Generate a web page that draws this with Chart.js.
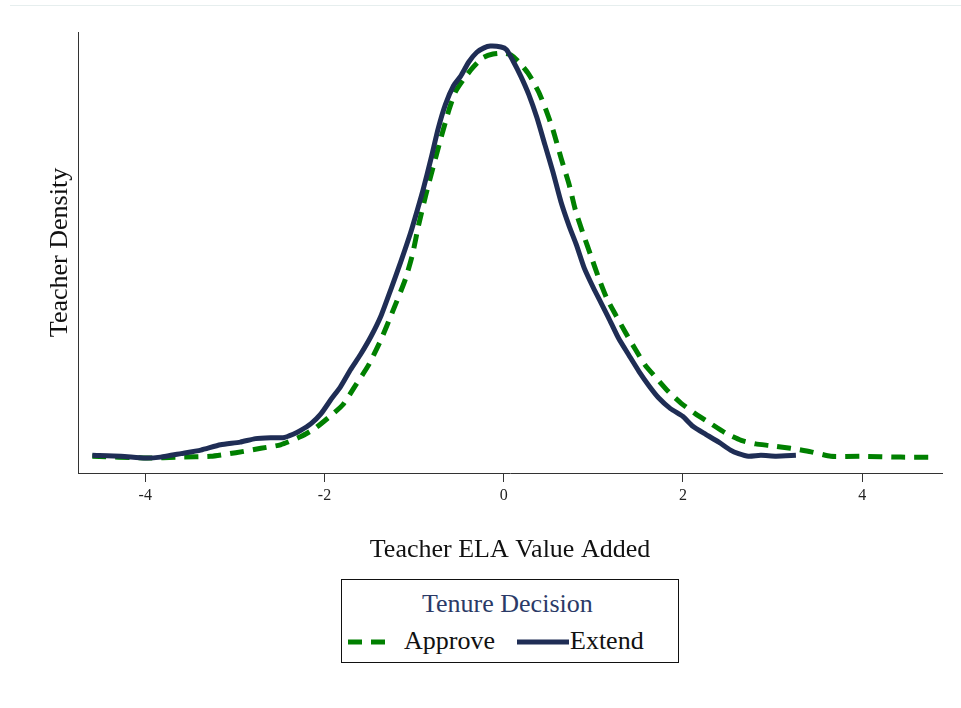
<!DOCTYPE html>
<html>
<head>
<meta charset="utf-8">
<script src="https://cdn.jsdelivr.net/npm/chart.js@4"></script>
<style>
  body { margin: 0; background: #fff; font-family: "Liberation Serif", serif; }
  .page { position: relative; width: 961px; height: 708px; }
  .topline { position: absolute; left: 10px; right: 0; top: 5px; border-top: 1px solid #e6eeee; }
  .wrap { position: absolute; left: 0; top: 0; width: 961px; height: 575px; }
  .legend { position: absolute; left: 341px; top: 579px; width: 336px; height: 82px; border: 1px solid #111; }
  .legend span { position: absolute; white-space: nowrap; line-height: 1; }
  .legend svg { position: absolute; }
</style>
</head>
<body>
<div class="page">
  <div class="topline"></div>
  <div class="wrap"><canvas id="chart"></canvas></div>
  <div class="legend">
    <span style="left:80px; top:11px; font-size:26px; color:#2b3a67;">Tenure Decision</span>
    <svg style="left:6px; top:57px;" width="44" height="10"><line x1="0" y1="5" x2="44" y2="5" stroke="#008000" stroke-width="5" stroke-dasharray="14,9"/></svg>
    <span style="left:62px; top:48px; font-size:26px; color:#111;">Approve</span>
    <svg style="left:175px; top:57px;" width="52" height="10"><line x1="0" y1="5" x2="52" y2="5" stroke="#1f2d55" stroke-width="5"/></svg>
    <span style="left:228px; top:48px; font-size:26px; color:#111;">Extend</span>
  </div>
</div>
<script>
// x positions and densities
const approveX = [-4.59, -4.0, -3.6, -3.27, -2.99, -2.71, -2.49, -2.27, -2.10, -1.93, -1.79, -1.65, -1.51, -1.37, -1.24, -1.10, -1.02, -0.95, -0.87, -0.79, -0.70, -0.61, -0.54, -0.45, -0.35, -0.23, -0.12, -0.01, 0.08, 0.17, 0.28, 0.39, 0.47, 0.55, 0.64, 0.73, 0.80, 0.88, 0.97, 1.06, 1.15, 1.25, 1.36, 1.47, 1.58, 1.70, 1.84, 1.98, 2.14, 2.31, 2.48, 2.65, 2.81, 2.98, 3.20, 3.43, 3.65, 3.98, 4.43, 4.77];
const approveY = [0.019, 0.017, 0.018, 0.019, 0.023, 0.028, 0.032, 0.041, 0.051, 0.065, 0.078, 0.100, 0.122, 0.151, 0.183, 0.219, 0.247, 0.281, 0.315, 0.346, 0.380, 0.412, 0.432, 0.446, 0.459, 0.471, 0.475, 0.476, 0.474, 0.466, 0.452, 0.432, 0.412, 0.389, 0.357, 0.327, 0.298, 0.273, 0.247, 0.221, 0.198, 0.179, 0.159, 0.140, 0.122, 0.108, 0.092, 0.079, 0.067, 0.056, 0.045, 0.037, 0.033, 0.031, 0.028, 0.024, 0.019, 0.019, 0.018, 0.018];

const extendX = [-4.59, -4.27, -4.0, -3.83, -3.6, -3.38, -3.16, -2.94, -2.77, -2.6, -2.46, -2.35, -2.27, -2.15, -2.04, -1.93, -1.82, -1.71, -1.6, -1.48, -1.37, -1.26, -1.15, -1.04, -0.97, -0.9, -0.81, -0.73, -0.65, -0.56, -0.48, -0.39, -0.30, -0.22, -0.15, -0.03, 0.03, 0.1, 0.19, 0.28, 0.37, 0.46, 0.55, 0.64, 0.73, 0.81, 0.9, 1.0, 1.08, 1.17, 1.28, 1.4, 1.51, 1.62, 1.73, 1.86, 2.0, 2.11, 2.25, 2.4, 2.53, 2.62, 2.73, 2.87, 3.04, 3.26];
const extendY = [0.020, 0.019, 0.017, 0.018, 0.022, 0.026, 0.032, 0.035, 0.039, 0.040, 0.040, 0.044, 0.048, 0.056, 0.067, 0.083, 0.098, 0.117, 0.134, 0.155, 0.178, 0.208, 0.239, 0.272, 0.296, 0.321, 0.357, 0.391, 0.418, 0.439, 0.450, 0.466, 0.477, 0.482, 0.484, 0.483, 0.480, 0.468, 0.450, 0.429, 0.403, 0.372, 0.341, 0.307, 0.280, 0.259, 0.232, 0.210, 0.194, 0.176, 0.153, 0.133, 0.115, 0.099, 0.085, 0.073, 0.064, 0.053, 0.044, 0.035, 0.026, 0.022, 0.019, 0.020, 0.019, 0.020];

const xTicks = [-4, -2, 0, 2, 4];

const toPoints = (xs, ys) => xs.map((x, i) => ({ x: x, y: ys[i] }));

const axisColor = '#333';
const serif = '"Liberation Serif", serif';

new Chart(document.getElementById('chart'), {
  type: 'line',
  data: {
    datasets: [
      {
        label: 'Extend',
        data: toPoints(extendX, extendY),
        borderColor: '#1f2d55',
        borderWidth: 5,
        pointRadius: 0,
        tension: 0.2,
        order: 0,
      },
      {
        label: 'Approve',
        data: toPoints(approveX, approveY),
        borderColor: '#008000',
        borderWidth: 5,
        borderDash: [14, 9],
        pointRadius: 0,
        tension: 0.2,
        order: 1,
      },
    ],
  },
  options: {
    responsive: true,
    maintainAspectRatio: false,
    animation: false,
    layout: { padding: { top: 32, right: 19, left: 0, bottom: 0 } },
    plugins: {
      legend: { display: false },
      tooltip: { enabled: false },
    },
    scales: {
      x: {
        type: 'linear',
        min: -4.75,
        max: 4.89,
        afterBuildTicks: (scale) => { scale.ticks = xTicks.map(v => ({ value: v })); },
        afterFit: (scale) => { scale.height = 102; },
        grid: { drawOnChartArea: false, drawTicks: true, tickLength: 9, color: axisColor },
        border: { display: true, color: axisColor, width: 1 },
        ticks: { color: '#222', padding: 4, font: { family: serif, size: 16 } },
        title: {
          display: true,
          text: 'Teacher ELA Value Added',
          color: '#111',
          font: { family: serif, size: 26 },
          padding: { top: 0, bottom: 9 },
        },
      },
      y: {
        min: 0,
        max: 0.5,
        afterFit: (scale) => { scale.width = 78; },
        grid: { display: false },
        border: { display: true, color: axisColor, width: 1 },
        ticks: { display: false },
        title: {
          display: true,
          text: 'Teacher Density',
          color: '#111',
          font: { family: serif, size: 26 },
          padding: { top: 45, bottom: 0 },
        },
      },
    },
  },
});
</script>
</body>
</html>
